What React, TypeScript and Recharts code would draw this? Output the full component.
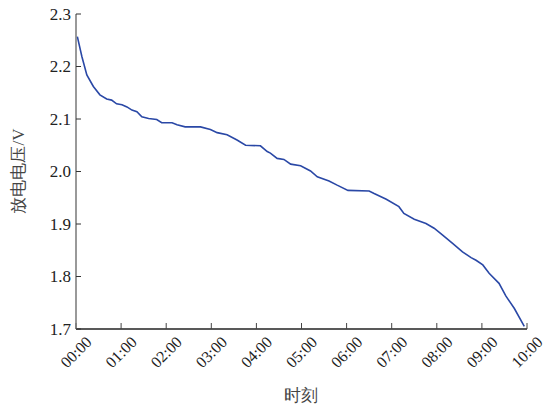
import { LineChart, Line, XAxis, YAxis, Label } from "recharts"

// hours since start of discharge
const hours = [
    0.03, 0.13, 0.24, 0.385, 0.53, 0.68, 0.79, 0.9, 1.02, 1.13, 1.24, 1.35, 1.46, 1.61, 1.79, 1.9, 2.13,
    2.24, 2.42, 2.76, 2.98, 3.13, 3.35, 3.57, 3.76, 4.09, 4.24, 4.31, 4.46, 4.61, 4.76, 4.98, 5.2, 5.35,
    5.61, 5.79, 6.03, 6.5, 6.61, 6.88, 7.16, 7.27, 7.5, 7.76, 7.94, 8.13, 8.35, 8.57, 8.76, 8.87, 9.02,
    9.16, 9.38, 9.53, 9.72, 9.94,
]

// discharge voltage (V)
const voltage = [
    2.257, 2.219, 2.184, 2.162, 2.146, 2.138, 2.136, 2.129, 2.127, 2.123, 2.117, 2.114, 2.104, 2.101,
    2.099, 2.093, 2.093, 2.089, 2.085, 2.085, 2.08, 2.074, 2.07, 2.06, 2.05, 2.049, 2.038, 2.035, 2.025,
    2.023, 2.014, 2.011, 2.001, 1.99, 1.982, 1.974, 1.964, 1.963, 1.958, 1.947, 1.933, 1.92, 1.909, 1.901,
    1.892, 1.879, 1.863, 1.847, 1.836, 1.831, 1.822, 1.806, 1.787, 1.763, 1.739, 1.705,
]

const xTicks = [0, 1, 2, 3, 4, 5, 6, 7, 8, 9, 10]
const xTickLabels = ["00:00", "01:00", "02:00", "03:00", "04:00", "05:00", "06:00", "07:00", "08:00", "09:00", "10:00"]
const yTicks = [1.7, 1.8, 1.9, 2.0, 2.1, 2.2, 2.3]

const data = hours.map((h, i) => ({ t: h, v: voltage[i] }))

const FONT = "Liberation Serif"

function XTick({ x, y, payload }: any) {
    const label = xTickLabels[xTicks.indexOf(payload.value)] ?? ""
    return (
        <text
            x={x}
            y={y}
            textAnchor="middle"
            dominantBaseline="central"
            transform={`rotate(-45 ${x} ${y})`}
            fontSize={16}
            fontFamily={FONT}
            fill="#222"
        >
            {label}
        </text>
    )
}

function YTick({ x, y, payload }: any) {
    return (
        <text x={x} y={y} textAnchor="end" dominantBaseline="central" fontSize={17} fontFamily={FONT} fill="#222">
            {Number(payload.value).toFixed(1)}
        </text>
    )
}

export default function App() {
    return (
        <div style={{ position: "absolute", left: 0, top: 0, background: "#fff" }}>
            <LineChart width={545} height={405} data={data} margin={{ top: 14, right: 18, bottom: 0, left: 0 }}>
                <XAxis
                    dataKey="t"
                    type="number"
                    domain={[0, 10]}
                    ticks={xTicks}
                    height={76}
                    interval={0}
                    tickSize={-6}
                    tickMargin={29}
                    axisLine={{ stroke: "#222", strokeWidth: 1.5 }}
                    tickLine={{ stroke: "#444" }}
                    tick={<XTick />}
                >
                    <Label
                        content={() => (
                            <text x={301} y={395} textAnchor="middle" dominantBaseline="central" fontSize={17} fontFamily={FONT} fill="#444">
                                时刻
                            </text>
                        )}
                    />
                </XAxis>
                <YAxis
                    type="number"
                    domain={[1.7, 2.3]}
                    ticks={yTicks}
                    width={76}
                    interval={0}
                    tickSize={-5}
                    tickMargin={10}
                    axisLine={{ stroke: "#777", strokeWidth: 1.5 }}
                    tickLine={{ stroke: "#333" }}
                    tick={<YTick />}
                >
                    <Label
                        content={() => (
                            <text
                                x={18}
                                y={171}
                                textAnchor="middle"
                                dominantBaseline="central"
                                transform="rotate(-90 18 171)"
                                fontSize={17}
                                fontFamily={FONT}
                                fill="#444"
                            >
                                放电电压/V
                            </text>
                        )}
                    />
                </YAxis>
                <Line
                    type="linear"
                    dataKey="v"
                    stroke="#2a48a6"
                    strokeWidth={1.6}
                    dot={false}
                    isAnimationActive={false}
                />
            </LineChart>
        </div>
    )
}
